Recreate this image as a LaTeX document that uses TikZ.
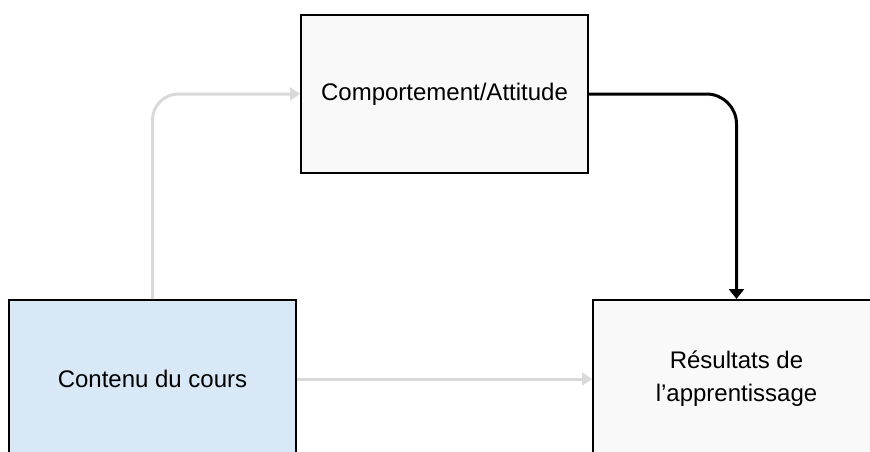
\documentclass[tikz,border=0pt]{standalone}
\usepackage{fontspec}
\setmainfont{Liberation Sans}
\usetikzlibrary{arrows.meta}
\definecolor{boxgray}{HTML}{F9F9F9}
\definecolor{boxblue}{HTML}{D8E8F6}
\definecolor{linegray}{HTML}{D9D9D9}
\tikzset{
  box/.style={draw=black, line width=2pt, minimum width=287pt, minimum height=158pt,
    inner sep=0pt, align=center, font=\fontsize{24}{33}\selectfont},
  grayarrow/.style={draw=linegray, line width=3pt, rounded corners=26pt,
    -{Triangle[length=10pt,width=13pt]}},
  blackarrow/.style={draw=black, line width=3pt, rounded corners=30pt,
    -{Triangle[length=10pt,width=15pt]}}
}
\begin{document}
\begin{tikzpicture}[x=1pt,y=-1pt]
\useasboundingbox (0,0) rectangle (870,452);
\clip (0,0) rectangle (870,452);
\fill[white] (0,0) rectangle (870,452);
\node[box, fill=boxgray] (top) at (444.5,94) {Comportement/Attitude};
\node[box, fill=boxblue] (left) at (152.5,379) {Contenu du cours};
\node[box, fill=boxgray] (right) at (736.5,379) {Résultats de\\l’apprentissage};
\draw[grayarrow] (left.north) |- (top.west);
\draw[grayarrow] (left.east) -- (right.west);
\draw[blackarrow] (top.east) -| (right.north);
\end{tikzpicture}
\end{document}
